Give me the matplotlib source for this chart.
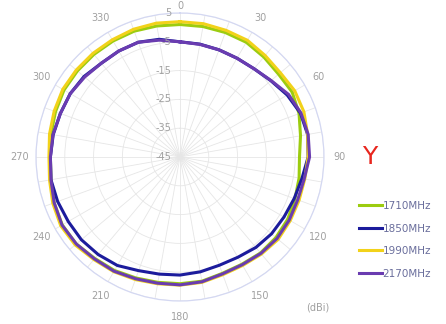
import matplotlib.pyplot as plt
import matplotlib.transforms as mtransforms
import numpy as np

### DATA ###
angles_deg = list(range(0, 360, 10))

gain_1710 = [1, 1, 1, 1, 0.3, -0.3, 0, -1, -2.5, -3.5, -3, -2.5, -1.8, -1.5, -1.5, -2, -2, -1.2,
             -1, -0.8, -0.3, 0.5, 1, 2, 2.2, 1.5, 0.5, 0, 0.5, 1, 1.5, 1.5, 1.5, 1.5, 1.5, 1.2]
gain_1850 = [-5, -5.2, -5.4, -5.4, -5, -3.8, -2, -0.5, 0, -0.5, -2, -2.8, -3.3, -3.5, -4, -4.8, -5, -4.5,
             -4, -3.7, -3, -1.5, -0.8, -0.3, -0.2, 0.2, 0.5, 0, -0.3, -0.8, -1, -1.5, -2.5, -2.5, -2.6, -3.5]
gain_1990 = [2, 2, 1.8, 1.8, 1, 0.5, 1, 0.8, 0, -0.5, -1, -1, -0.8, -0.5, -1, -1.5, -1.5, -0.8,
             -0.5, -0.3, 0.3, 1, 1.5, 2.5, 2.8, 2, 1, 0.5, 1, 1.5, 2, 2, 2, 2, 2.2, 2.2]
gain_2170 = [-5, -5.3, -5.4, -5.4, -5, -3.7, -1.5, -0.3, 0.2, 0, -1.2, -1.5, -1.2, -1, -1.3, -1.8, -1.8, -1,
             -0.6, -0.5, 0, 0.8, 1.2, 2, 2.3, 1.5, 0.5, 0, -0.2, -0.8, -1, -1.8, -2.5, -2.5, -2.6, -3.8]

series_labels = ["1710MHz", "1850MHz", "1990MHz", "2170MHz"]
series_colors = ["#9ccc10", "#1c1c9c", "#f2d21a", "#6a3cb0"]

r_ticks = [-45, -35, -25, -15, -5, 5]

### PLOT ###
fig = plt.figure(figsize=(4.46, 3.24), dpi=100)
ax = fig.add_axes([0.0807, 0.0710, 0.6457, 0.8889], projection='polar')
ax.set_theta_zero_location('N')
ax.set_theta_direction(-1)
ax.set_ylim(-45, 5)

theta = np.deg2rad(angles_deg + [angles_deg[0]])
for vals, lab, col in zip([gain_1710, gain_1850, gain_1990, gain_2170], series_labels, series_colors):
    ax.plot(theta, vals + [vals[0]], color=col, lw=2.2, label=lab)

# grid (the "0" label is placed by hand so it stays inside the picture)
ax.set_xticks(np.deg2rad(np.arange(0, 360, 10)))
ax.set_xticklabels([str(a) if a % 30 == 0 and a != 0 else "" for a in range(0, 360, 10)],
                   fontsize=7, color='#a0a0a0')
ax.tick_params(axis='x', pad=1)
ax.set_yticks(r_ticks)
ax.set_yticklabels([])
ax.grid(color='#e6e6e6', lw=0.6)
ax.spines['polar'].set_color('#d4d8f2')
ax.spines['polar'].set_linewidth(0.9)
fig.text(0.4036, 0.997, "0", ha='center', va='top', fontsize=7, color='#a0a0a0')

off = mtransforms.offset_copy(ax.transData, fig=fig, x=-6, y=0, units='points')
for r in r_ticks:
    ax.text(0, r, str(r), transform=off, ha='right', va='center', fontsize=7, color='#a0a0a0')

fig.text(0.83, 0.515, "Y", color='#e8261e', fontsize=18, ha='center', va='center')
fig.text(0.712, 0.05, "(dBi)", color='#a0a0a0', fontsize=7, ha='center', va='center')

ax.legend(loc='center left', bbox_to_anchor=(0.785, 0.26), bbox_transform=fig.transFigure,
          frameon=False, fontsize=7.5, handlelength=2.2, handletextpad=0.0, labelspacing=1.2,
          labelcolor='#6a6e9c')

fig.savefig("out.png", dpi=100)
